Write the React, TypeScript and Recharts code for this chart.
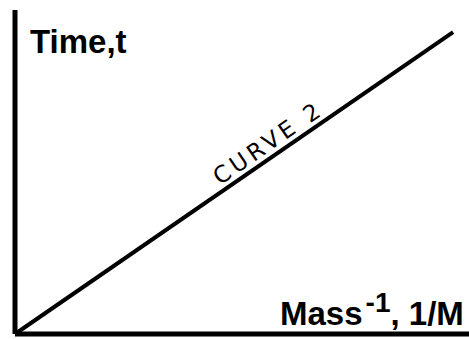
import { LineChart, Line, XAxis, YAxis, ReferenceDot } from 'recharts';

// 1/M on the horizontal axis, t on the vertical one
const inverseMass = [0, 0.965];
const time = [0, 0.932];
const curveName = 'CURVE 2';
const yTitle = 'Time,t';
const xTitle = 'Mass';
const xTitleExp = '-1';
const xTitleTail = ', 1/M';

const data = inverseMass.map((m, i) => ({ m, t: time[i] }));

// spot along the line where the curve name sits
const nameAt = { m: 0.575, t: 0.575 * (time[1] / inverseMass[1]) };

const FONT = '"Liberation Sans", Arial, sans-serif';

export default function App() {
  return (
    <div style={{ width: 469, height: 339, background: '#fff' }}>
      <style>{`body{margin:0}`}</style>
      <LineChart
        width={469}
        height={339}
        data={data}
        margin={{ top: 10, right: 0, bottom: 4, left: 14 }}
      >
        <XAxis
          type="number"
          dataKey="m"
          domain={[0, 1]}
          height={1}
          tick={false}
          tickLine={false}
          axisLine={{ stroke: '#000', strokeWidth: 5 }}
          label={{
            content: () => (
              <text x={280} y={325} fontFamily={FONT} fontWeight="bold" fontSize={33} fill="#000">
                {xTitle}
                <tspan fontSize={28} dy={-13} dx={3}>{xTitleExp}</tspan>
                <tspan dy={13}>{xTitleTail}</tspan>
              </text>
            ),
          }}
        />
        <YAxis
          type="number"
          domain={[0, 1]}
          width={1}
          tick={false}
          tickLine={false}
          axisLine={{ stroke: '#000', strokeWidth: 5 }}
          label={{
            content: () => (
              <text x={30} y={53} fontFamily={FONT} fontWeight="bold" fontSize={33} fill="#000">
                {yTitle}
              </text>
            ),
          }}
        />
        <Line
          type="linear"
          dataKey="t"
          stroke="#000"
          strokeWidth={4}
          dot={false}
          isAnimationActive={false}
        />
        <ReferenceDot
          x={nameAt.m}
          y={nameAt.t}
          r={0}
          fill="none"
          stroke="none"
          label={{
            content: (props: any) => {
              const vb = props.viewBox || {};
              const cx = (vb.x ?? 0) + (vb.width ?? 0) / 2;
              const cy = (vb.y ?? 0) + (vb.height ?? 0) / 2;
              return (
                <g transform={`translate(${cx},${cy}) rotate(-34.6)`}>
                  <text
                    x={0}
                    y={-6}
                    textAnchor="middle"
                    fontFamily='"DejaVu Sans", sans-serif'
                    fontSize={23}
                    letterSpacing={4}
                    fill="#000"
                  >
                    {curveName}
                  </text>
                </g>
              );
            },
          }}
        />
      </LineChart>
    </div>
  );
}
